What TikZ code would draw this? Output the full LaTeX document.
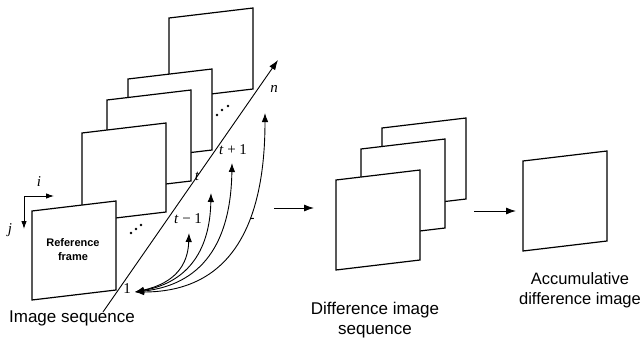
\documentclass[tikz,border=0pt]{standalone}
\usepackage{fontspec}
\setmainfont{Liberation Sans}
\newfontfamily\serifit{Liberation Serif}
\usetikzlibrary{arrows.meta}

% an image plane: name, left x, top-left y, height (pixel-like units, y down)
\newcommand{\drawframe}[4]{%
  \draw[imgframe] (#2,#3) coordinate (#1-tl) -- ++(84,-10) coordinate (#1-tr)
    -- ++(0,#4) coordinate (#1-br) -- ++(-84,10) coordinate (#1-bl) -- cycle;}

\begin{document}
\begin{tikzpicture}[x=1pt,y=-1pt,
  imgframe/.style={draw=black, fill=white, line width=1.2pt, line join=miter},
  thinline/.style={line width=0.9pt},
  headtip/.style={-{Latex[length=10pt,width=7pt]}},
  smalltip/.style={-{Latex[length=8pt,width=5.5pt]}},
  bothtips/.style={{Latex[length=9pt,width=6.5pt]}-{Latex[length=9pt,width=6.5pt]}},
  caption/.style={font=\fontsize{17}{20}\selectfont, inner sep=0pt},
  mathlbl/.style={font=\serifit\fontsize{15}{15}\selectfont\itshape, inner sep=0pt},
  numlbl/.style={font=\serifit\fontsize{15}{15}\selectfont, inner sep=0pt}]
\useasboundingbox (0,0) rectangle (643,340);

% image sequence, back to front
\drawframe{f5}{169}{18}{81}
\drawframe{f4}{128}{79}{81}
\drawframe{f3}{107}{100}{91}
\drawframe{f2}{82}{133}{89}
\drawframe{f1}{32}{211}{89}

% difference image sequence, back to front
\drawframe{d3}{382}{128}{81}
\drawframe{d2}{361}{149}{89}
\drawframe{d1}{336}{180}{90}

% accumulative difference image
\drawframe{acc}{523}{161}{90}

% ellipsis dots between planes
\foreach \px/\py in {131/233, 136/229, 141/225, 217/115, 222/110, 228/106}
  \fill (\px,\py) circle (1.3pt);

% time axis
\coordinate (axs) at (103,312);
\coordinate (axe) at (278,60);
\draw[thinline, headtip] (axs) -- (axe);

% axis labels
\node[mathlbl] (ln) at (274,89) {n};
\node[numlbl] (ltp) at (233,150) {\textit{t} + 1};
\node[mathlbl] (lt) at (197,176) {t};
\node[numlbl] (ltm) at (188,219) {\textit{t} − 1};
\node[numlbl] (lone) at (127,289) {1};
\node[numlbl] (ldash) at (252,220) {-};

% differencing arcs from the reference frame to later frames
\coordinate (src) at (135,292);
\coordinate (q1) at (189,233);
\coordinate (q2) at (211,193);
\coordinate (q3) at (232,163);
\coordinate (q4) at (265,113);
\draw[thinline, bothtips] (src) .. controls (175,283) and (188,265) .. (q1);
\draw[thinline, bothtips] (src) .. controls (190,282) and (210,248) .. (q2);
\draw[thinline, bothtips] (src) .. controls (208,284) and (231,235) .. (q3);
\draw[thinline, bothtips] (src) .. controls (240,292) and (265,210) .. (q4);

% pixel axes i, j
\coordinate (orig) at (24,196);
\coordinate (iend) at (54,196);
\coordinate (jend) at (24,229);
\draw[thinline, smalltip] (orig) -- (iend);
\draw[thinline, smalltip] (orig) -- (jend);
\node[mathlbl] (li) at (39,182) {i};
\node[mathlbl] (lj) at (10,230) {j};

% stage arrows
\coordinate (s1a) at (274,208);
\coordinate (s1b) at (314,208);
\coordinate (s2a) at (474,211);
\coordinate (s2b) at (516,211);
\draw[thinline, headtip] (s1a) -- (s1b);
\draw[thinline, headtip] (s2a) -- (s2b);

% captions
\node[font=\bfseries\fontsize{11}{14}\selectfont, align=center, inner sep=0pt] (ref) at (73,250) {Reference\\frame};
\node[caption] (cseq) at (72,318) {Image sequence};
\node[caption, align=center] (cdiff) at (375,320) {Difference image\\sequence};
\node[caption, align=center, font=\fontsize{16.5}{20}\selectfont] (cacc) at (580,290) {Accumulative\\difference image};
\end{tikzpicture}
\end{document}
